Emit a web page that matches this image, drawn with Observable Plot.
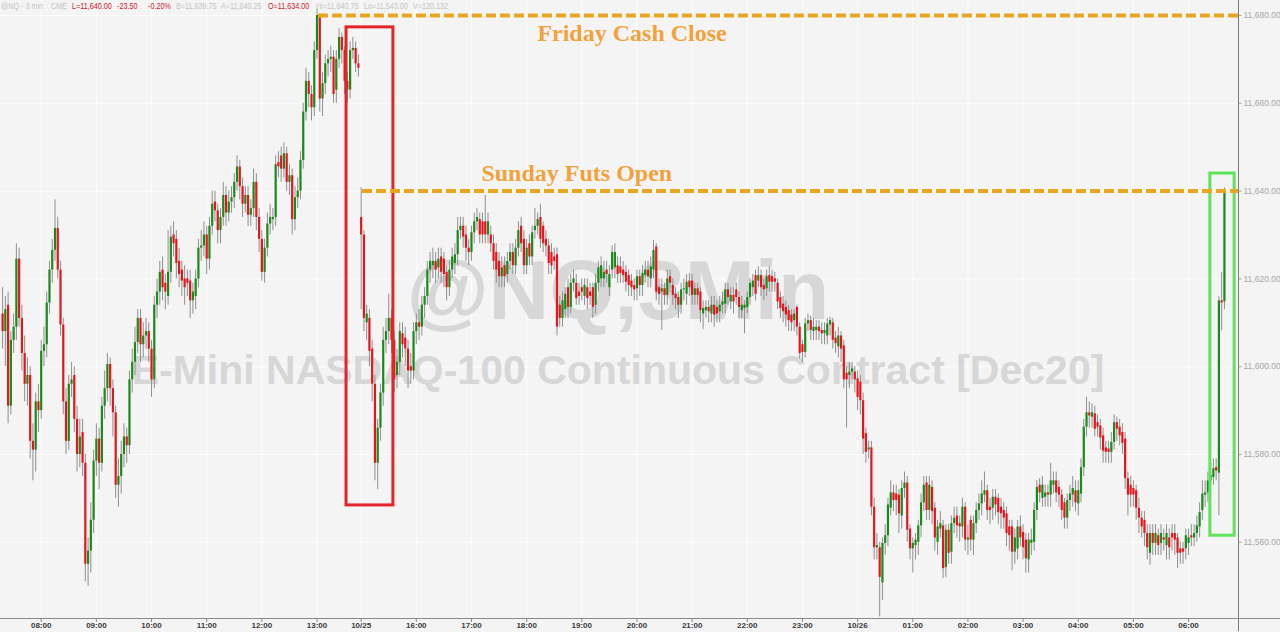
<!DOCTYPE html>
<html><head><meta charset="utf-8">
<script src="https://cdn.jsdelivr.net/npm/d3@7"></script>
<script src="https://cdn.jsdelivr.net/npm/@observablehq/plot@0.6"></script>
<style>
html,body{margin:0;padding:0;background:#f4f4f4;}
#wrap{position:relative;width:1280px;height:632px;overflow:hidden;background:#f4f4f4;}
#wrap svg{position:absolute;left:0;top:0;}
#hdr span{position:absolute;top:1px;font:9px "Liberation Sans",Arial,sans-serif;white-space:nowrap;z-index:2;transform:scaleX(0.8);transform-origin:0 0;}
.g{color:#c4c4c4}
.r{color:#c8202a;font-weight:bold}
</style></head><body>
<div id="wrap"><div id="hdr"></div></div>
<script>
// ---- OHLC data (3-min bars, Friday session then Sunday session) ----
const O = [
11612,11608,11614,11591,11606,11609,11624.5,11611,11603,11596,
11598,11583,11581,11592,11590,11603.5,11605,11614.5,11622,11626.5,
11631.5,11622,11609.5,11592,11583,11596,11598,11588,11580,11585,
11578,11555,11558,11565,11578.5,11583.5,11578,11591,11595,11600.5,
11595,11589.5,11573,11575,11580,11584,11582,11597,11601,11605.5,
11611,11605,11607,11608,11604,11597,11614,11617,11622,11619,
11616,11621.5,11630,11629,11624,11622,11620,11620,11619.5,11615,
11616,11620,11627,11627.5,11630,11624.5,11632,11637.5,11635.5,11631,
11634,11639,11635,11637.5,11638.5,11642,11645.5,11641,11637,11639,
11634.5,11636,11642,11634,11629,11621.5,11627,11632.5,11633.5,11634,
11646.5,11648,11645,11648.5,11642,11643.5,11633.5,11638.5,11640,11647,
11658,11665,11662,11659,11672,11679.5,11661,11664.5,11669,11670,
11670.5,11663,11670,11675,11672,11665,11663,11672,11672.5,11669,
11634,11630,11610,11611,11604,11596,11578,11586,11594,11606,
11608,11611,11606,11598,11601,11607.5,11606.5,11604,11600,11599,
11608,11610,11609,11614,11616,11622,11623,11624,11622.5,11625,
11624.5,11621.5,11618,11622,11623.5,11625.5,11631,11632,11630,11627,
11626,11630.5,11633,11633.5,11633,11633,11630,11630,11628,11626,
11624,11620.5,11623,11621,11624,11626,11623,11627,11632,11629,
11623,11628,11625,11631,11632,11634,11632,11629,11627.5,11626,
11625,11625.5,11614,11611,11613,11618,11613.5,11619,11619,11617,
11618,11616,11618,11617,11618,11614,11619,11620,11620,11622,
11618,11622,11622.5,11623,11622.75,11622,11621.5,11620.75,11619.5,11618.5,
11617.75,11620.5,11618.5,11620.75,11622,11620,11622,11627.25,11618,11617,
11617.75,11616.25,11620.5,11618.5,11616.5,11615.75,11614,11617.5,11616.5,11619.5,
11619.5,11616.25,11617.75,11617,11612,11612.75,11613.5,11612,11614,11613.5,
11612.5,11614,11614.25,11617.5,11614.75,11616.25,11617.5,11615.75,11612.75,11613.25,
11613.5,11615.75,11618,11620.75,11619.5,11620.75,11618.5,11617.75,11620.75,11620.5,
11620,11619,11615.75,11614.25,11613.5,11612.75,11611.75,11610.5,11613.5,11609,
11605,11603.25,11609.75,11610.5,11608,11608.25,11609,11608.25,11607.5,11607,
11609.5,11610,11606.5,11604.5,11607,11604.75,11598.5,11598,11598.75,11598.75,
11597.25,11596.5,11592.25,11584.75,11581,11581.5,11568,11558.75,11558.75,11550.75,
11559.75,11561.5,11567.75,11571.25,11571,11570.75,11566,11572.25,11573.5,11563,
11558.5,11559.25,11560,11563.75,11569,11573.5,11567.25,11572.5,11567.75,11560,
11563,11563.75,11554.25,11562.75,11557.75,11564.25,11566,11564.25,11563.5,11568,
11560.5,11565,11560.5,11564.25,11567.25,11568.75,11570.75,11571.75,11568,11567.75,
11570.25,11570,11568,11567.25,11566.5,11563.5,11563.5,11557.75,11558.5,11563.5,
11562.25,11560.5,11556,11559.75,11560,11567.25,11573,11570,11570.25,11571.25,
11570.75,11573,11574,11572.5,11570.75,11569,11565.5,11569.5,11570.75,11571.75,
11568.75,11571,11577,11586.25,11589.5,11588.5,11589.25,11587.25,11586.5,11584.25,
11581.5,11581.25,11580.5,11582.75,11587.25,11586.25,11585,11583.5,11574.5,11573,
11572.25,11571.75,11567.75,11565.5,11565,11562,11557.5,11562,11559.75,11561.5,
11559.75,11561,11559.25,11561,11562,11562,11561,11558.5,11558.5,11558.5,
11559.75,11561.5,11561,11562,11563.5,11567.25,11570.75,11571.25,11574,11574.75,
11577,11575.75,11615,11614.75];
const H = [
11618,11616,11617,11608,11612,11628,11627,11614,11607,11602,
11600,11587,11594,11596,11606,11609,11617,11624,11629,11638,
11634,11624,11611,11595,11598,11601,11600,11591,11588,11588,
11580,11561,11569,11581,11587,11586,11593,11599,11603,11602,
11597,11591,11579,11583,11587,11586,11599,11604,11609,11613,
11613,11610,11611,11610,11606,11616,11620,11624,11625,11621,
11631,11632,11633,11631,11627,11624,11623,11622,11622,11619,
11622,11629,11631,11633,11632,11634,11640,11640,11637,11636,
11642,11641,11640,11641,11644,11648,11647,11643,11641,11641,
11638,11645,11644,11636,11631,11629,11635,11637,11636,11648,
11649,11650,11651,11650,11646,11645,11641,11643,11649,11660,
11668,11667,11664,11674,11681.5,11680,11667,11671,11672,11673,
11672,11672,11677,11676,11673,11667,11674,11675,11674,11671,
11640.75,11631,11614,11613,11606,11598,11588,11596,11609,11611,
11616.5,11613,11608,11604,11610,11610,11609,11606,11603,11610,
11612,11613,11616,11618,11624,11626,11627,11626,11627,11627,
11626,11623,11624,11627,11628,11634,11634,11634,11632,11629,
11632,11635,11636,11635,11635,11639,11635,11632,11630,11628,
11626,11625,11625,11626,11628,11628,11629,11633,11634,11631,
11629,11630,11632,11636,11635,11637,11633,11631,11629,11628,
11627,11627,11616,11617,11618,11620,11621,11622,11621,11619,
11620,11620,11620,11619,11619,11621,11624,11625,11624,11624,
11623,11627.5,11628,11625,11625,11624,11623,11622,11621,11620,
11622,11622,11623,11624,11624,11625,11628.75,11628,11620,11620,
11619,11622,11622,11620,11618,11617,11619,11620,11621,11621.25,
11621,11619,11619,11618,11615,11615,11615,11616,11616,11615,
11616,11617,11619,11619,11618,11618,11619,11617,11616,11615,
11617,11620,11621,11622,11622.75,11622,11620,11622,11622.75,11622,
11621.5,11620,11617,11616,11615,11614,11613,11613,11614,11610,
11606,11611,11612,11611.5,11611,11610.5,11610.5,11610,11610,11611,
11611.25,11611,11608,11609,11608,11606,11600,11601,11601,11600,
11599,11598,11594,11586,11583,11583,11570,11562,11560,11561,
11564,11570,11574,11573,11573,11572,11574,11576,11575,11564,
11561,11562,11565,11571,11575,11575,11575,11574,11569,11565,
11567,11565,11564,11564,11566,11568,11568,11566,11570,11569,
11564,11566,11566,11569,11571,11574,11576,11573,11570,11572,
11572,11571,11570,11569,11568,11565,11565,11563,11565,11566,
11564,11562,11562,11563,11569,11574,11574.5,11575,11573,11573,
11578,11576,11576,11574,11572,11570,11571,11573,11575,11574,
11574,11579,11588,11593,11592,11591.5,11591,11589,11588,11586,
11583,11583,11585,11589,11588.5,11588,11587,11585,11576,11575,
11574,11573,11570,11567,11567,11564,11564,11564,11564,11563,
11564,11563,11564,11563,11564,11564,11562,11560,11560,11563,
11563,11564,11564,11566,11569,11574,11574,11576,11578,11579,
11579,11616,11621.5,11640.75];
const L = [
11604,11600,11587,11589,11603,11606,11609,11599,11592,11591,
11579,11574,11576,11585,11588,11600,11602,11612,11619,11624,
11620,11607,11589,11580,11581,11593,11585,11576,11577,11575,
11551,11550,11553,11562,11575,11572,11576,11588,11592,11591,
11584,11570,11568,11571,11577,11578,11580,11594,11598,11603,
11601,11602,11604,11601,11593,11595,11611,11614,11615,11613,
11614,11619,11625,11620,11618,11616,11614,11616,11611,11612,
11613,11618,11624,11625,11621,11622,11630,11633,11628,11628,
11632,11632,11633,11635,11636,11640,11638,11634,11635,11632,
11632,11634,11631,11626,11619.5,11619,11625,11630,11631,11632,
11643,11642,11643,11640,11639,11630,11631,11636,11638,11645,
11656,11659,11656,11657,11670,11658,11657,11662,11666,11667,
11660,11660,11668,11669,11662,11660,11661,11670,11667,11666,
11613,11608,11606,11600,11592,11574,11572,11583,11591,11603,
11605,11603,11594,11595,11598,11602,11600,11595,11596,11597,
11605,11606,11607,11611,11614,11619,11620,11619,11620,11619,
11618,11615,11616,11620,11621,11623,11629,11627,11624,11623,
11624,11628,11631,11628,11628,11628,11628,11626,11622,11619,
11618,11618,11618,11619,11622,11621,11621,11625,11626,11621,
11621,11623,11623,11629,11630,11627,11626,11625,11621,11621,
11622,11607,11609,11609,11611,11611,11612,11617,11614,11614,
11615,11614,11613,11614,11611,11612,11617,11618,11618,11619,
11616,11620,11620,11619,11619,11619,11617,11616,11616,11615,
11615,11616,11616,11619,11618,11618,11620,11615,11614,11608.25,
11614,11614,11617,11614,11613,11611,11612,11615,11614,11616,
11614,11614,11614,11610,11608.5,11611,11610,11610,11609,11610,
11610,11612,11612,11614,11613,11612,11614,11611,11611,11607.5,
11612,11614,11616,11615,11618,11616,11615,11616,11617,11617,
11617,11613,11611,11610,11609,11608,11608,11608,11607,11601.75,
11601,11602,11608,11606,11606,11606,11606,11605,11605,11605,
11607,11604,11603,11602,11601,11595,11586,11595,11597,11594,
11590,11589,11580,11578,11579,11566,11556,11556,11543,11546.75,
11557,11559,11566,11567,11566,11562,11563,11570,11560,11556,
11553,11556,11557,11561,11567,11565,11565,11564,11558,11557,
11561,11551.75,11552,11555,11555,11562,11561,11560,11561,11558,
11557,11558,11557,11562,11565,11566,11569,11565,11564,11565,
11566,11564,11563,11563,11559,11558,11553.5,11555,11556,11559,
11556,11553,11553,11557,11558,11565,11569,11568,11568,11568,
11568,11571,11569,11568,11565,11563,11563,11567,11568,11567,
11566,11569,11575,11584,11586,11586,11584,11584,11581,11578,
11578,11578,11578,11581,11583,11582,11580,11572,11566,11568,
11568,11565,11562,11561,11559,11556,11554.75,11557,11557,11557,
11557,11558,11556,11556,11558,11557,11554,11555,11555,11556,
11557,11559,11559,11560,11561,11565,11568,11569,11572,11573,
11574,11566,11608.25,11613];
const C = [
11608,11613,11591,11606,11609,11624.5,11611,11603,11596,11598,
11583,11581,11592,11590,11603.5,11605,11614.5,11622,11626.5,11631.5,
11622,11609.5,11592,11583,11596,11597,11588,11580,11584,11578,
11555,11558,11565,11578.5,11583.5,11578,11591,11595,11600.5,11595,
11589.5,11573,11575,11580,11584,11582,11597,11601,11605.5,11611,
11605,11607,11608,11604,11597,11614,11617,11621.5,11618,11617,
11621.5,11629.5,11628,11623.5,11621,11619.5,11618,11619,11615,11617,
11620,11627,11627.5,11630,11624.5,11632,11637,11635.5,11631,11634,
11639,11635,11637.5,11638.5,11642,11645.5,11641,11637,11639,11634.5,
11636,11642,11634,11629,11621.5,11627,11632.5,11634,11634,11646,
11645.5,11645,11648.5,11642,11643.5,11633.5,11638.5,11640,11647,11658,
11665,11662,11659,11672,11680,11661,11664.5,11669,11670,11670.5,
11662,11670,11675,11672,11665,11663,11672,11672.5,11669,11668,
11630,11611,11612,11603.5,11596,11578,11586,11594,11606,11608,
11611,11606,11597,11601,11608,11605,11604,11599,11599,11608,
11610,11609,11614,11616,11622,11624,11624,11622,11624.5,11621.5,
11621,11618,11622,11625,11625.5,11631,11632,11629.5,11627,11626,
11630.5,11633,11634,11630,11630,11630,11633,11628,11624,11622,
11620.5,11622.5,11620.5,11624,11626,11623,11627,11631,11628,11623,
11627,11625,11630.5,11632,11633.5,11629,11628,11627.5,11623.5,11623,
11624,11609,11611,11615,11616.5,11613.5,11619,11620,11615.5,11616,
11617,11618.5,11615.5,11616,11613.5,11619,11622.5,11623,11621.5,11621,
11621,11626,11626,11621,11621.25,11620.75,11619.25,11618.5,11618,11617.5,
11620.5,11618.5,11621.25,11622,11620.5,11622.75,11626.5,11617,11616.5,11617.75,
11616.25,11620,11619,11616.25,11615.5,11614,11617.5,11617.75,11619.25,11618,
11616.25,11617.75,11616.25,11612.75,11613.25,11613.5,11612.5,11614,11611.75,11612,
11614,11614.75,11617.5,11615.75,11616.25,11614.75,11615.75,11613.5,11614,11614,
11615.75,11619,11619.5,11616.5,11620.75,11618,11617.5,11620.5,11619.25,11619.25,
11619.25,11614.75,11613.25,11612.5,11611.75,11610.5,11610,11612,11609,11603,
11603.25,11609.75,11610.5,11608.25,11609,11609,11608,11607.5,11608.25,11609.75,
11610.5,11606,11605.25,11607,11604,11597,11597,11598.75,11599.5,11597,
11593,11592.25,11583.5,11580.5,11581.5,11568,11558.75,11559.25,11552,11559.75,
11561.5,11568.5,11571.25,11569.5,11569.5,11566.5,11572.25,11573.5,11562.75,11558.5,
11559.75,11560.5,11563.75,11569,11573,11567.25,11573,11567,11561,11563.5,
11564.25,11554,11562.75,11557.5,11564.25,11565.5,11563.75,11563.5,11568,11560.5,
11561,11560.5,11564.25,11567.25,11568.75,11571,11571.75,11567.25,11567.25,11570.25,
11568.5,11566.75,11566.5,11565.5,11562,11561.5,11557.75,11561,11563.5,11561,
11558.75,11556.25,11560.5,11560.5,11567.25,11572.5,11571.25,11573,11571.25,11570.75,
11574,11574,11571.25,11570.75,11567.25,11565.5,11569.5,11571,11572.25,11569,
11571.75,11577,11586.25,11589.5,11588.75,11589.5,11585.75,11586.25,11583.75,11580.75,
11580.5,11580.5,11582.75,11587.25,11585.75,11584.25,11582.5,11574.5,11570.75,11570.75,
11570.75,11567.75,11565.5,11563.5,11562,11558.75,11562,11559.75,11562,11559.25,
11562,11560.5,11562,11558.75,11561,11560.5,11557.5,11557.5,11557.75,11561.5,
11561,11561,11562,11563.75,11566.75,11571,11571.25,11574,11575.25,11576.75,
11576.25,11615,11614.5,11640];

// ---- axis ticks ----
const xTickIndex = [14,34,54,74,94,114,130,150,170,190,210,230,250,270,290,310,330,350,370,390,410,430];
const xTickLabels = ["08:00","09:00","10:00","11:00","12:00","13:00","10/25","16:00","17:00","18:00","19:00","20:00","21:00","22:00","23:00","10/26","01:00","02:00","03:00","04:00","05:00","06:00"];
const yTicks = [11560,11580,11600,11620,11640,11660,11680];

// ---- annotations (bar index / price units) ----
const levelPrice = [11680, 11640];
const levelStart = [114.5, 130.5];
const levelText = ["Friday Cash Close", "Sunday Futs Open"];
const levelTextX = [193.9, 173.6];
const levelTextY = [11674.3, 11642.4];
const boxX1 = [124.7, 437.9], boxX2 = [141.7, 446.7];
const boxY1 = [11568.4, 11561.5], boxY2 = [11677.3, 11644];
const boxColor = ["#e3242b", "#5fe35a"];

// ---- header ----
const hdrText = ["@NQ - 3 min","CME","L=11,640.00","-23.50","-0.20%","B=11,639.75","A=11,640.25","O=11,634.00","Hi=11,640.75","Lo=11,543.00","V=120,132"];
const hdrCls  = ["g","g","r","r","r","g","g","r","g","g","g"];
const hdrLeft = [1,51,72,117,148,176,221,268,316,364,413];

const xDom = [-0.76, 448.1];
const yDom = [11542.64, 11683.42];
const n = Math.min(O.length, H.length, L.length, C.length);
const bars = d3.range(n).map(i => ({i, o:O[i], h:H[i], l:L[i], c:C[i]}));
const ups = bars.filter(d => d.c >= d.o);
const downs = bars.filter(d => d.c < d.o);
const levels = levelPrice.map((p,k)=>({p, s:levelStart[k], t:levelText[k], tx:levelTextX[k], ty:levelTextY[k]}));
const boxes = boxX1.map((x,k)=>({x1:x, x2:boxX2[k], y1:boxY1[k], y2:boxY2[k], col:boxColor[k]}));
const gridCol = "#fdfdfd";

const chart = Plot.plot({
  width: 1280, height: 632,
  marginLeft: 0, marginRight: 42, marginTop: 0, marginBottom: 14,
  style: {background: "transparent", fontFamily: "'Liberation Sans', Arial, sans-serif", overflow: "visible"},
  x: {domain: xDom, axis: null},
  y: {domain: yDom, axis: null},
  marks: [
    Plot.ruleX(xTickIndex, {x: d => d, stroke: gridCol, strokeWidth: 1}),
    Plot.ruleY(yTicks, {y: d => d, stroke: gridCol, strokeWidth: 1}),
    Plot.text(["@NQ,3Min"], {frameAnchor: "middle", lineAnchor: "bottom", dx: -1.5, dy: 9.5, fontSize: 84, fontWeight: "bold", fill: "#d7d7d7"}),
    Plot.text(["E-Mini NASDAQ-100 Continuous Contract [Dec20]"], {frameAnchor: "middle", lineAnchor: "bottom", dx: -1.5, dy: 74.5, fontSize: 41, fontWeight: "bold", fill: "#d7d7d7"}),
    Plot.ruleX(bars, {x: "i", y1: "l", y2: "h", stroke: "#8f8f8f", strokeWidth: 1}),
    Plot.ruleX(ups, {x: "i", y1: "o", y2: "c", stroke: "#1a8a1a", strokeWidth: 2.2}),
    Plot.ruleX(downs, {x: "i", y1: "o", y2: "c", stroke: "#e3161e", strokeWidth: 2.2}),
    Plot.rect(boxes, {x1: "x1", x2: "x2", y1: "y1", y2: "y2", fill: "none", stroke: "col", strokeWidth: 3}),
    Plot.ruleY(levels, {y: "p", x1: "s", x2: xDom[1], stroke: "#eaa520", strokeWidth: 4, strokeDasharray: "10,4"}),
    Plot.text(levels, {x: "tx", y: "ty", text: "t", textAnchor: "start", lineAnchor: "bottom", fontSize: 24, fontWeight: "bold", fontFamily: "'Liberation Serif', 'Times New Roman', serif", fill: "#f2a23c"}),
    // right axis
    Plot.ruleX([xDom[1]], {x: d => d, y1: yDom[0] - 3, y2: yDom[1], stroke: "#7a7a7a", strokeWidth: 1}),
    Plot.ruleY(yTicks, {y: d => d, x1: xDom[1], x2: xDom[1] + 1.2, stroke: "#9a9a9a"}),
    Plot.text(yTicks, {y: d => d, text: d => d3.format(",.2f")(d), frameAnchor: "right", textAnchor: "start", dx: 5, fontSize: 8.5, fill: "#a6a6a6"}),
    // bottom axis
    Plot.ruleY([yDom[0]], {y: d => d, x1: xDom[0], x2: 465, stroke: "#8a8a8a", strokeWidth: 1}),
    Plot.ruleX(xTickIndex, {x: d => d, y1: yDom[0], y2: yDom[0] - 0.9, stroke: "#8a8a8a"}),
    Plot.text(xTickIndex, {x: d => d, text: (d, k) => xTickLabels[k], frameAnchor: "bottom", lineAnchor: "top", dy: 4, fontSize: 8, fontWeight: "bold", fill: "#3a3a3a"})
  ]
});
document.getElementById("wrap").appendChild(chart);

const hdr = document.getElementById("hdr");
hdrText.forEach((t, k) => {
  const s = document.createElement("span");
  s.textContent = t; s.className = hdrCls[k]; s.style.left = hdrLeft[k] + "px";
  hdr.appendChild(s);
});
</script>
</body></html>
